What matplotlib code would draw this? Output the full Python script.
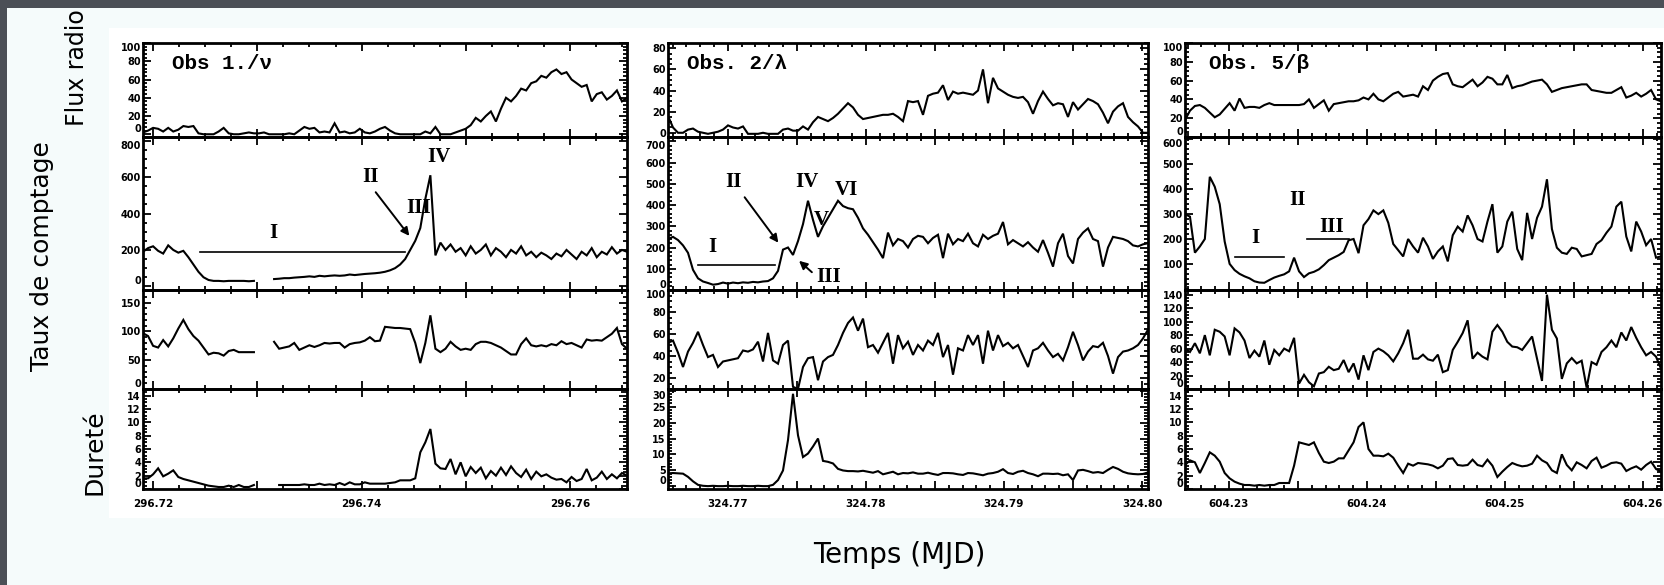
import matplotlib.pyplot as plt
import numpy as np
from matplotlib.patches import Rectangle

nan = np.nan

# ---------------------------------------------
# --------- DONNEES -------
obs_names = ['Obs 1./\u03bd', 'Obs. 2/\u03bb', 'Obs. 5/\u03b2']
t_start = [296.71904, 324.76567, 604.22681]      # debut de chaque fenetre (MJD)
t_end   = [296.76545, 324.80043, 604.26130]      # fin de chaque fenetre (MJD)

# --- Obs 1 ---
radio_1 = [2, 4, 7, 6, 3, 7, 3, 5, 9, 8, 9, 1, 0, 0, 0, 3, 7, 1, 0, 0,
           1, 2, 1, 1, 2, 0, 0, 0, 0, 1, 0, 4, 8, 6, 7, 2, 3, 2, 12, 2,
           3, 1, 2, 6, 2, 1, 3, 6, 8, 4, 1, 0, 0, 0, 0, 0, 3, 1, 8, 0,
           0, 0, 2, 4, 6, 10, 18, 14, 20, 25, 14, 28, 40, 36, 42, 50, 48, 56, 58, 64,
           62, 68, 71, 66, 68, 60, 56, 52, 54, 36, 44, 46, 38, 42, 48, 36, 40]
counts_1 = [190, 210, 220, 195, 180, 225, 200, 185, 195, 160, 120, 80, 50, 35, 30, 30, 28, 30, 30, 30,
            30, 28, 30, nan, nan, nan, 40, 42, 45, 45, 48, 50, 52, 55, 52, 58, 55, 58, 60, 58,
            60, 65, 62, 65, 68, 70, 72, 75, 80, 88, 100, 120, 150, 200, 250, 320, 480, 610, 170, 240,
            200, 230, 190, 210, 170, 220, 180, 200, 230, 170, 210, 190, 160, 200, 180, 220, 170, 190, 160, 185,
            170, 150, 180, 165, 200, 175, 150, 190, 170, 210, 160, 190, 175, 215, 180, 200, 190]
ratio_1 = [97, 92, 75, 72, 85, 74, 88, 105, 120, 104, 92, 84, 72, 60, 63, 62, 58, 66, 68, 64,
           64, 64, 64, nan, nan, nan, 82, 70, 72, 74, 80, 68, 72, 76, 73, 76, 80, 79, 80, 80,
           72, 78, 80, 81, 84, 90, 83, 84, 108, 107, 106, 106, 105, 104, 80, 45, 80, 128, 70, 64,
           70, 82, 74, 68, 70, 68, 78, 82, 82, 80, 76, 72, 66, 60, 60, 78, 88, 76, 74, 76,
           74, 78, 76, 83, 78, 80, 76, 72, 86, 84, 85, 84, 90, 96, 106, 78, 70]
hard_1 = [1.6, 1.6, 2.2, 3.1, 1.9, 2.3, 2.8, 1.8, 1.5, 1.3, 1.1, 0.9, 0.7, 0.5, 0.4, 0.3, 0.3, 0.5, 0.3, 0.6,
          0.3, 0.3, 0.6, nan, nan, nan, nan, 0.6, 0.6, 0.6, 0.6, 0.6, 0.7, 0.6, 0.6, 0.8, 0.6, 0.7, 0.6, 0.9,
          0.6, 1.0, 0.7, 0.7, 1.0, 0.8, 0.8, 0.8, 0.8, 0.9, 1.0, 1.3, 1.3, 1.3, 1.6, 5.5, 7.0, 9.0, 3.8, 3.1,
          3.0, 4.5, 2.2, 4.0, 1.9, 3.3, 2.4, 3.2, 1.6, 2.7, 2.0, 3.2, 2.1, 3.4, 2.4, 1.8, 2.9, 1.5, 2.6, 1.9,
          2.2, 1.7, 1.4, 1.5, 1.0, 1.8, 1.2, 1.5, 3.0, 1.3, 1.7, 2.6, 1.5, 2.2, 1.6, 2.4, 2.0]

# --- Obs 2 ---
radio_2 = [16, 5, 0, 0, 3, 4, 1, 0, -1, 0, 1, 3, 7, 5, 4, 6, -1, -1, -1, 0,
           -1, -1, -1, 3, 4, 2, 2, 6, 3, 10, 15, 13, 11, 14, 18, 23, 28, 24, 17, 13,
           14, 15, 16, 17, 17, 18, 15, 11, 30, 29, 30, 17, 35, 37, 38, 45, 31, 39, 37, 38,
           37, 36, 40, 60, 28, 52, 42, 39, 36, 34, 33, 34, 29, 18, 30, 39, 32, 26, 28, 27,
           15, 29, 22, 27, 32, 30, 27, 19, 9, 20, 25, 28, 15, 10, 6, 0, 0]
counts_2 = [240, 250, 235, 210, 175, 95, 55, 40, 33, 25, 28, 35, 30, 35, 32, 36, 34, 38, 36, 40,
            42, 55, 90, 190, 200, 165, 230, 310, 420, 330, 250, 300, 340, 380, 420, 395, 385, 380, 340, 290,
            260, 225, 190, 150, 270, 210, 240, 230, 200, 240, 255, 250, 220, 245, 260, 150, 265, 215, 240, 230,
            265, 220, 205, 260, 240, 255, 265, 320, 215, 235, 220, 205, 225, 200, 180, 235, 175, 110, 220, 265,
            160, 125, 240, 270, 290, 240, 230, 110, 200, 250, 245, 240, 230, 210, 205, 215, 220]
ratio_2 = [52, 54, 43, 30, 44, 52, 62, 50, 39, 41, 30, 35, 36, 37, 38, 45, 44, 46, 53, 35,
           61, 36, 33, 50, 54, 12, 10, 30, 38, 39, 18, 35, 39, 41, 50, 61, 70, 75, 63, 74,
           48, 50, 43, 52, 61, 33, 59, 47, 53, 41, 50, 45, 54, 50, 61, 39, 50, 23, 47, 45,
           59, 50, 59, 33, 63, 45, 59, 49, 52, 47, 50, 40, 30, 45, 47, 52, 45, 39, 42, 36,
           48, 62, 50, 36, 44, 49, 48, 52, 40, 24, 39, 44, 45, 47, 50, 56, 64]
hard_2 = [4.1, 4.2, 4.1, 4.0, 3.0, 1.6, 0.5, 0.2, 0.1, 0.2, 0.1, 0.1, 0.2, 0.1, 0.1, 0.2, 0.1, 0.1, 0.2, 0.1,
          0.1, 0.5, 2.0, 5.0, 14.5, 29.0, 16.0, 9.2, 10.3, 12.5, 15.0, 8.0, 7.7, 7.2, 5.5, 5.0, 4.8, 4.8, 4.7, 4.9,
          4.6, 4.3, 4.8, 3.8, 4.2, 4.6, 3.8, 4.2, 4.1, 4.4, 4.0, 4.0, 4.3, 3.9, 3.6, 4.2, 4.2, 4.1, 3.8, 3.6,
          4.2, 4.1, 3.8, 3.5, 4.0, 4.2, 4.6, 5.4, 4.2, 3.9, 4.6, 4.9, 4.2, 3.8, 3.2, 4.0, 4.0, 3.9, 4.0, 3.5,
          3.8, 2.0, 5.0, 5.2, 4.8, 4.3, 4.5, 4.2, 5.2, 6.1, 5.5, 4.6, 4.1, 3.9, 3.8, 3.9, 4.4]

# --- Obs 5 ---
radio_5 = [18, 28, 33, 34, 31, 26, 21, 24, 30, 36, 28, 41, 31, 32, 32, 31, 34, 36, 34, 34,
           34, 34, 34, 34, 35, 40, 31, 35, 39, 28, 35, 36, 37, 38, 38, 39, 42, 40, 46, 40,
           38, 42, 46, 48, 43, 44, 45, 43, 54, 50, 60, 64, 67, 68, 56, 54, 53, 57, 61, 54,
           58, 64, 62, 56, 56, 66, 52, 54, 55, 57, 59, 60, 61, 56, 48, 50, 52, 53, 54, 55,
           56, 56, 50, 49, 48, 47, 47, 50, 53, 42, 44, 47, 43, 46, 50, 40, 38]
counts_5 = [300, 290, 145, 170, 200, 450, 410, 340, 190, 100, 75, 60, 50, 42, 30, 25, 24, 35, 45, 52,
            58, 70, 125, 70, 47, 62, 68, 78, 95, 115, 125, 135, 148, 195, 200, 143, 255, 280, 315, 300,
            315, 265, 180, 155, 130, 200, 170, 145, 205, 170, 120, 150, 170, 110, 215, 250, 230, 295, 255, 200,
            190, 270, 340, 145, 170, 270, 310, 160, 115, 305, 200, 285, 330, 440, 240, 165, 145, 140, 165, 160,
            130, 135, 140, 180, 195, 225, 250, 330, 350, 210, 150, 270, 230, 175, 200, 125, 130]
ratio_5 = [60, 55, 68, 53, 80, 50, 88, 85, 78, 50, 90, 84, 72, 46, 57, 48, 72, 36, 58, 50,
           60, 56, 76, 8, 21, 10, 4, 23, 25, 33, 28, 30, 43, 25, 38, 14, 50, 28, 55, 60,
           56, 50, 41, 53, 68, 88, 45, 45, 51, 44, 42, 51, 25, 28, 58, 70, 83, 102, 45, 54,
           48, 44, 85, 95, 85, 70, 63, 62, 58, 68, 78, 45, 12, 140, 88, 75, 15, 38, 46, 38,
           42, 2, 40, 36, 55, 62, 72, 62, 84, 72, 92, 76, 62, 50, 55, 48, 30]
hard_5 = [3.6, 4.3, 4.0, 2.4, 3.9, 5.5, 5.0, 4.1, 2.4, 1.6, 1.1, 0.8, 0.6, 0.6, 0.5, 0.6, 0.5, 0.6, 0.6, 0.9,
          0.9, 0.9, 3.5, 7.0, 6.8, 6.6, 7.0, 5.4, 4.1, 3.9, 4.1, 4.6, 4.6, 5.8, 7.0, 9.3, 10.0, 6.0, 5.0, 5.0,
          4.9, 5.3, 4.7, 3.5, 2.4, 3.8, 3.5, 3.9, 3.8, 3.7, 3.5, 3.1, 3.5, 4.5, 4.6, 3.6, 3.5, 3.6, 4.4, 3.6,
          3.4, 4.4, 3.5, 1.8, 2.6, 3.3, 3.9, 3.6, 3.4, 3.5, 3.8, 5.0, 4.3, 3.9, 2.8, 2.4, 5.2, 3.6, 2.8, 4.0,
          3.6, 3.1, 4.2, 4.7, 3.2, 3.5, 3.9, 4.0, 3.8, 2.7, 3.1, 3.4, 2.9, 3.6, 4.1, 3.0, 2.6]

series = [[radio_1, counts_1, ratio_1, hard_1],
          [radio_2, counts_2, ratio_2, hard_2],
          [radio_5, counts_5, ratio_5, hard_5]]

# graduations
xticks = [[296.72, 296.73, 296.74, 296.75, 296.76],
          [324.77, 324.775, 324.78, 324.785, 324.79, 324.795, 324.80],
          [604.23, 604.235, 604.24, 604.245, 604.25, 604.255, 604.26]]
xticklabels = [['296.72', '', '296.74', '', '296.76'],
               ['324.77', '', '324.78', '', '324.79', '', '324.80'],
               ['604.23', '', '604.24', '', '604.25', '', '604.26']]
xminor = [0.0025, 0.001, 0.001]

ylims = [[(-3, 100), (-20, 820), (0, 172), (0, 15)],
         [(-4, 85), (0, 720), (10, 100), (-0.8, 30.5)],
         [(0, 100), (-5, 610), (0, 147), (0, 15)]]
yticks = [[[0, 20, 40, 60, 80, 100], [0, 200, 400, 600, 800], [0, 50, 100, 150], list(range(0, 15, 2))],
          [[0, 20, 40, 60, 80], list(range(0, 701, 100)), [20, 40, 60, 80, 100], [0, 5, 10, 15, 20, 25, 30]],
          [[0, 20, 40, 60, 80, 100], list(range(100, 601, 100)), list(range(0, 141, 20)), list(range(0, 15, 2))]]
yminor = [[4, 50, 10, 0.5], [5, 20, 5, 1], [5, 20, 5, 0.5]]

# phases I, II, ... (texte, t, valeur) sur la courbe de comptage
phase_labels = [[('I', 296.73151, 293), ('II', 296.74081, 600), ('III', 296.74551, 430), ('IV', 296.74742, 710)],
                [('I', 324.76886, 202), ('II', 324.77038, 508), ('III', 324.77733, 61),
                 ('IV', 324.77574, 508), ('V', 324.77675, 329), ('VI', 324.77856, 470)],
                [('I', 604.23188, 204), ('II', 604.23493, 357), ('III', 604.23746, 248)]]
phase_bars = [[(296.72451, 296.74416, 189)],
              [(324.76784, 324.77342, 118)],
              [(604.23043, 604.23398, 128), (604.23565, 604.23869, 200)]]
phase_arrows = [[((296.74119, 529), (296.74474, 265))],
                [((324.77110, 447), (324.77378, 212)), ((324.77624, 75), (324.77501, 146))],
                []]

# ---------------------------------------------
# --------- DESSIN -----------------------------
W, H = 1664, 585
col_left = [143, 668, 1185]
col_width = [484, 480, 476]
row_edges = [43, 137, 290, 389, 489]

fig = plt.figure(figsize=(W / 100, H / 100), dpi=100, facecolor='#4b4f56')
fig.patches.append(Rectangle((7 / W, 0), 1, 1 - 8 / H, transform=fig.transFigure,
                             facecolor='#f5fbfb', edgecolor='none', zorder=-20))
fig.patches.append(Rectangle((109 / W, 1 - 518 / H), 1, (518 - 28) / H, transform=fig.transFigure,
                             facecolor='white', edgecolor='none', zorder=-19))

for c in range(3):
    for r in range(4):
        y0, y1 = row_edges[r], row_edges[r + 1]
        ax = fig.add_axes([col_left[c] / W, 1 - y1 / H, col_width[c] / W, (y1 - y0) / H])
        ax.set_facecolor('none')
        vals = np.array(series[c][r], dtype=float)
        t = np.linspace(t_start[c], t_end[c], len(vals))
        ax.plot(t, vals, color='black', lw=1.5, solid_joinstyle='miter')
        ax.set_xlim(t_start[c], t_end[c])
        lo, hi = ylims[c][r]
        ax.set_ylim(lo, hi)

        ax.set_xticks(xticks[c])
        if r == 3:
            ax.set_xticklabels(xticklabels[c])
        else:
            ax.set_xticklabels([])
        ax.xaxis.set_minor_locator(plt.MultipleLocator(xminor[c]))
        ax.set_yticks(yticks[c][r])
        ylabs = ax.set_yticklabels([str(v) for v in yticks[c][r]])
        ax.yaxis.set_minor_locator(plt.MultipleLocator(yminor[c][r]))
        # comme IDL : etiquettes des bords poussees a l'interieur du cadre
        for v, lab in zip(yticks[c][r], ylabs):
            if v - lo < 0.04 * (hi - lo):
                lab.set_va('bottom')
            elif hi - v < 0.04 * (hi - lo):
                lab.set_va('top')

        ax.tick_params(which='both', direction='in', top=True, right=True, width=1.3, colors='black')
        ax.tick_params(which='major', length=5.5)
        ax.tick_params(which='minor', length=2.8)
        ax.tick_params(axis='y', pad=1.5, labelsize=7)
        ax.tick_params(axis='x', pad=7, labelsize=7.5)
        for lab in ax.get_xticklabels() + ax.get_yticklabels():
            lab.set_fontweight('bold')
        for sp in ax.spines.values():
            sp.set_linewidth(2.0)

        if r == 0:
            ax.text([0.060, 0.040, 0.050][c], 0.787, obs_names[c], transform=ax.transAxes,
                    family='Liberation Mono', fontweight='bold', fontsize=15, va='center')
        if r == 1:
            for txt, tx, ty in phase_labels[c]:
                ax.text(tx, ty, txt, family='Liberation Serif', fontweight='bold',
                        fontsize=15, ha='center', va='center')
            for xa, xb, yb in phase_bars[c]:
                ax.plot([xa, xb], [yb, yb], color='black', lw=1.2)
            for tail, tip in phase_arrows[c]:
                ax.annotate('', xy=tip, xytext=tail,
                            arrowprops=dict(arrowstyle='-|>', color='black', lw=1.4, mutation_scale=12))

# titres des axes (texte de la diapositive)
fig.text(77 / W, 1 - 68 / H, 'Flux radio', rotation=90, ha='center', va='center', fontsize=17)
fig.text(42 / W, 1 - 256 / H, 'Taux de comptage', rotation=90, ha='center', va='center', fontsize=18)
fig.text(95 / W, 1 - 452 / H, 'Duret\u00e9', rotation=90, ha='center', va='center', fontsize=18)
fig.text(899 / W, 1 - 555 / H, 'Temps (MJD)', ha='center', va='center', fontsize=20)

fig.savefig('out.png', dpi=100, facecolor=fig.get_facecolor())
